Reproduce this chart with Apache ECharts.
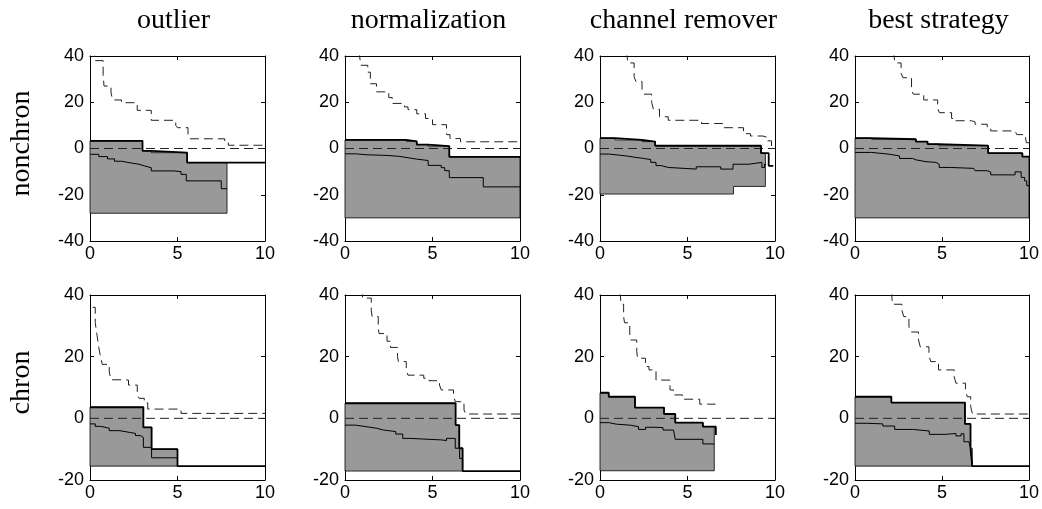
<!DOCTYPE html>
<html>
<head>
<meta charset="utf-8">
<script src="https://cdn.jsdelivr.net/npm/echarts@6/dist/echarts.min.js"></script>
<style>
html,body{margin:0;padding:0;background:#fff}
#chart{width:1042px;height:509px}
</style>
</head>
<body>
<div id="chart"></div>
<script>
const colTitles = ['outlier', 'normalization', 'channel remover', 'best strategy']
const rowTitles = ['nonchron', 'chron']
const xRange = [0, 10]
const yRangeTop = [-40, 40]
const yRangeBottom = [-20, 40]

// step points: [x where the level starts, level]; last point closes the line
// --- nonchron row ---
const outlierNcUpper = [[0,3.3],[3.0,-1.0],[3.5,-1.8],[5.55,-6.1],[10,-6.1]]
const outlierNcLower = [[0,-28],[7.83,-28]]
const outlierNcMid = [[0,-2.5],[0.5,-3.5],[1.0,-4.5],[1.4,-5.5],[1.8,-6.2],[2.3,-6.8],[2.8,-7.5],[3.1,-8.3],[3.5,-9.7],[4.8,-10],[5.2,-11.2],[5.5,-14],[7.5,-17.4],[7.83,-17.4]]
const outlierNcDash = [[0.2,44],[0.3,38],[0.75,32],[0.8,27],[1.2,24],[1.3,21],[1.8,19.8],[2.7,16.5],[3.5,12.2],[4.9,10],[5.0,9],[5.6,5.5],[5.7,4.2],[7.7,2.5],[7.9,1.4],[10,1.4]]

const normNcUpper = [[0,3.7],[3.5,3.1],[4.1,1.7],[4.75,1.0],[5.96,-3.6],[10,-3.6]]
const normNcLower = [[0,-30],[10,-30]]
const normNcMid = [[0,-2.3],[0.6,-2.7],[1.2,-3.0],[2.4,-3.4],[3.1,-4.0],[3.6,-4.6],[4.1,-5.2],[4.75,-7.3],[5.5,-8.3],[5.7,-9.6],[5.96,-12.6],[7.9,-16.6],[10,-16.6]]
const normNcDash = [[0.8,42],[0.9,36],[1.3,33],[1.45,28],[1.8,24.5],[2.5,22],[2.7,19.5],[3.4,18],[3.6,16.8],[4.1,15],[4.6,13],[5.0,10.3],[5.8,6],[6.0,4.3],[6.6,2.9],[10,2.9]]

const chanNcUpper = [[0,4.5],[0.86,3.7],[2.4,3.0],[3.15,1.2],[9.2,-2],[9.64,-7.5],[9.9,-7.5]]
const chanNcLower = [[0,-19.7],[7.63,-16.4],[9.45,-16.4]]
const chanNcMid = [[0,-2.4],[0.5,-2.8],[1.0,-3.2],[1.5,-3.8],[2.0,-4.3],[2.5,-4.8],[2.9,-6.0],[3.2,-7.4],[3.5,-8.2],[3.9,-8.9],[5.5,-7.9],[6.9,-8.9],[7.6,-6.8],[8.5,-6.0],[9.25,-8.2],[9.4,-6.8],[9.5,-6.8]]
const chanNcDash = [[1.5,42],[1.6,37],[1.95,31],[2.05,29],[2.4,25.5],[2.5,23.5],[2.95,20],[3.05,17],[3.4,13.7],[3.9,12.2],[5.8,10.8],[7.0,9],[8.2,6.4],[8.6,5.4],[9.3,5],[9.5,3.3],[9.8,0.5],[10,0.5]]

const bestNcUpper = [[0,4.5],[0.95,4.0],[3.5,3.0],[4.17,1.9],[4.8,1.2],[7.65,-2],[9.62,-3.5],[10,-3.5]]
const bestNcLower = [[0,-30],[10,-30]]
const bestNcMid = [[0,-1.7],[0.95,-2.4],[1.9,-3.2],[2.56,-4.3],[3.3,-4.9],[3.5,-5.7],[4.08,-6.0],[4.65,-6.8],[4.84,-8.2],[5.5,-9.0],[5.6,-8.6],[6.83,-8.9],[6.9,-9.6],[7.6,-10.2],[7.8,-11.4],[9.2,-10.1],[9.55,-12.5],[9.75,-14],[9.87,-16.1],[10,-16.1]]
const bestNcDash = [[2.2,42],[2.3,37],[2.65,32.5],[2.75,30.6],[3.25,25],[3.35,23.5],[3.95,21],[4.75,17.5],[4.85,15.5],[5.55,13],[5.7,12],[6.7,11.5],[6.9,10.5],[7.6,9],[7.8,7.6],[9.2,7.6],[9.3,6],[9.8,4.5],[9.85,2.5],[10,2.5]]

// --- chron row ---
const outlierChUpper = [[0,3.6],[3.05,-2.9],[3.52,-10],[5.0,-15.5],[10,-15.5]]
const outlierChLower = [[0,-15.5],[5.0,-15.5]]
const outlierChMid = [[0,-1.8],[0.3,-2.6],[0.6,-3.2],[1.1,-4.0],[1.7,-4.6],[2.3,-4.9],[2.6,-5.6],[2.9,-6.2],[3.05,-9.4],[3.52,-12.8],[5.0,-12.8]]
const outlierChDash = [[0.15,36],[0.3,31],[0.4,27],[0.5,23],[0.6,20],[0.7,17.5],[1.1,15],[1.2,12.5],[2.0,12.4],[2.2,10.8],[2.7,8],[2.8,6.5],[3.1,5],[3.3,3.0],[5.2,1.6],[10,1.6]]

const normChUpper = [[0,4.9],[6.32,-2.2],[6.53,-9.7],[6.72,-17.1],[10,-17.1]]
const normChLower = [[0,-17.1],[6.72,-17.1]]
const normChMid = [[0,-2.2],[0.6,-2.7],[1.2,-3.2],[1.8,-3.8],[2.2,-4.3],[2.9,-5.1],[3.3,-6.5],[3.7,-7.0],[5.5,-7.2],[5.8,-6.5],[6.3,-9.7],[6.55,-13],[6.72,-17.1]]
const normChDash = [[0.8,41],[1.0,39],[1.5,35],[1.55,33],[1.9,29],[1.95,27.5],[2.4,25],[2.6,23],[3.0,20],[3.05,18.4],[3.5,15.7],[3.6,14],[4.5,13],[4.8,12.2],[5.4,10.8],[5.5,9.2],[6.2,7.6],[6.3,5.4],[6.8,2.7],[6.9,1.4],[10,1.4]]

const chanChUpper = [[0,8.3],[0.5,7.0],[2.0,3.5],[3.66,1.4],[4.3,-1.4],[5.88,-2.7],[6.62,-5.4]]
const chanChLower = [[0,-17],[6.53,-17]]
const chanChMid = [[0,-1.4],[0.5,-1.9],[0.95,-2.2],[1.7,-2.7],[2.2,-3.6],[2.6,-2.9],[3.1,-3.0],[3.6,-3.8],[4.2,-4.3],[4.3,-6.8],[5.88,-8.3],[6.53,-8.3]]
const chanChDash = [[1.15,41],[1.2,37],[1.35,33],[1.4,31],[1.7,27],[1.75,25.4],[2.1,21.6],[2.15,19.5],[2.6,16.8],[2.8,15.7],[3.2,12.4],[4.0,9.2],[4.2,7.6],[4.7,6.2],[5.7,4.6],[6.6,4.6]]

const bestChUpper = [[0,7.0],[2.09,5.1],[6.32,-1.8],[6.64,-9.7],[6.74,-15.5],[10,-15.5]]
const bestChLower = [[0,-15.5],[6.74,-15.5]]
const bestChMid = [[0,-1.6],[0.66,-1.8],[1.6,-2.5],[2.28,-3.6],[3.3,-4.1],[4.27,-5.2],[5.2,-4.9],[5.8,-5.7],[6.1,-5.0],[6.26,-7.6],[6.55,-8.1],[6.64,-9.7],[6.74,-15.5]]
const bestChDash = [[2.1,41],[2.15,37],[2.7,35],[2.8,33],[3.1,29.7],[3.2,28],[3.65,25.4],[3.75,23.2],[4.25,20.5],[4.35,18.4],[4.8,15.7],[5.7,13.5],[5.8,11.4],[6.35,9.2],[6.45,7],[6.65,3.8],[6.75,1.4],[10,1.4]]

const zeroLine = [[0,0],[10,0]]

const panels = [
  {upper: outlierNcUpper, lower: outlierNcLower, mid: outlierNcMid, dash: outlierNcDash},
  {upper: normNcUpper, lower: normNcLower, mid: normNcMid, dash: normNcDash},
  {upper: chanNcUpper, lower: chanNcLower, mid: chanNcMid, dash: chanNcDash},
  {upper: bestNcUpper, lower: bestNcLower, mid: bestNcMid, dash: bestNcDash},
  {upper: outlierChUpper, lower: outlierChLower, mid: outlierChMid, dash: outlierChDash},
  {upper: normChUpper, lower: normChLower, mid: normChMid, dash: normChDash},
  {upper: chanChUpper, lower: chanChLower, mid: chanChMid, dash: chanChDash},
  {upper: bestChUpper, lower: bestChLower, mid: bestChMid, dash: bestChDash}
]

// turn step points into polygon vertices up to xEnd
function stepVerts(pts, xEnd) {
  const out = []
  for (let i = 0; i < pts.length; i++) {
    if (pts[i][0] >= xEnd) break
    const nx = i + 1 < pts.length ? Math.min(pts[i + 1][0], xEnd) : xEnd
    out.push([pts[i][0], pts[i][1]], [nx, pts[i][1]])
  }
  return out
}

const chart = echarts.init(document.getElementById('chart'))
const sans = 'Liberation Sans, Arial, sans-serif'
const serif = 'Liberation Serif, Times New Roman, serif'
const L0 = 90, T0 = [56, 295], W = 175, H = 185, DX = 255

const grid = [], xAxis = [], yAxis = [], series = [], graphic = []

panels.forEach((p, i) => {
  const row = Math.floor(i / 4), col = i % 4
  const yr = row === 0 ? yRangeTop : yRangeBottom
  grid.push({left: L0 + col * DX, top: T0[row], width: W, height: H})
  const axLine = {show: true, onZero: false, lineStyle: {color: '#000', width: 1}}
  const tick = {show: true, inside: true, length: 4, lineStyle: {color: '#000'}}
  xAxis.push(
    {type: 'value', gridIndex: i, min: xRange[0], max: xRange[1], interval: 5, position: 'bottom',
     axisLine: axLine, axisTick: tick, splitLine: {show: false},
     axisLabel: {color: '#000', fontFamily: sans, fontSize: 18, margin: 4}},
    {type: 'value', gridIndex: i, min: xRange[0], max: xRange[1], interval: 5, position: 'top',
     axisLine: axLine, axisTick: tick, splitLine: {show: false}, axisLabel: {show: false}}
  )
  yAxis.push(
    {type: 'value', gridIndex: i, min: yr[0], max: yr[1], interval: 20, position: 'left',
     axisLine: axLine, axisTick: tick, splitLine: {show: false},
     axisLabel: {color: '#000', fontFamily: sans, fontSize: 18, margin: 6}},
    {type: 'value', gridIndex: i, min: yr[0], max: yr[1], interval: 20, position: 'right',
     axisLine: axLine, axisTick: tick, splitLine: {show: false}, axisLabel: {show: false}}
  )
  const xi = 2 * i, yi = 2 * i
  const xEnd = p.lower[p.lower.length - 1][0]
  const poly = stepVerts(p.upper, xEnd).concat(stepVerts(p.lower, xEnd).reverse())
  series.push({
    type: 'custom', xAxisIndex: xi, yAxisIndex: yi, silent: true, z: 1,
    data: [poly[0]],
    renderItem: (params, api) => ({
      type: 'polygon',
      shape: {points: poly.map(v => api.coord(v))},
      style: {fill: '#999999', stroke: '#000', lineWidth: 0.8}
    })
  })
  const lineBase = {type: 'line', xAxisIndex: xi, yAxisIndex: yi, showSymbol: false, silent: true, animation: false}
  series.push(
    Object.assign({}, lineBase, {data: zeroLine, z: 2, lineStyle: {color: '#222', width: 1, type: [9, 5]}}),
    Object.assign({}, lineBase, {data: p.dash, step: 'end', z: 2, lineStyle: {color: '#222', width: 1, type: [9, 5]}}),
    Object.assign({}, lineBase, {data: p.mid, step: 'end', z: 3, lineStyle: {color: '#000', width: 1}}),
    Object.assign({}, lineBase, {data: p.upper, step: 'end', z: 4, lineStyle: {color: '#000', width: 1.8}})
  )
})

colTitles.forEach((t, c) => {
  graphic.push({type: 'text', x: L0 + c * DX + W / 2 - 4, y: 21,
    style: {text: t, font: '28px ' + serif, fill: '#000', align: 'center', verticalAlign: 'middle'}})
})
rowTitles.forEach((t, r) => {
  graphic.push({type: 'text', x: 22, y: T0[r] + H / 2 - 5, rotation: Math.PI / 2,
    style: {text: t, font: '28px ' + serif, fill: '#000', align: 'center', verticalAlign: 'middle'}})
})

chart.setOption({
  animation: false,
  grid: grid,
  xAxis: xAxis,
  yAxis: yAxis,
  series: series,
  graphic: graphic
})
</script>
</body>
</html>
